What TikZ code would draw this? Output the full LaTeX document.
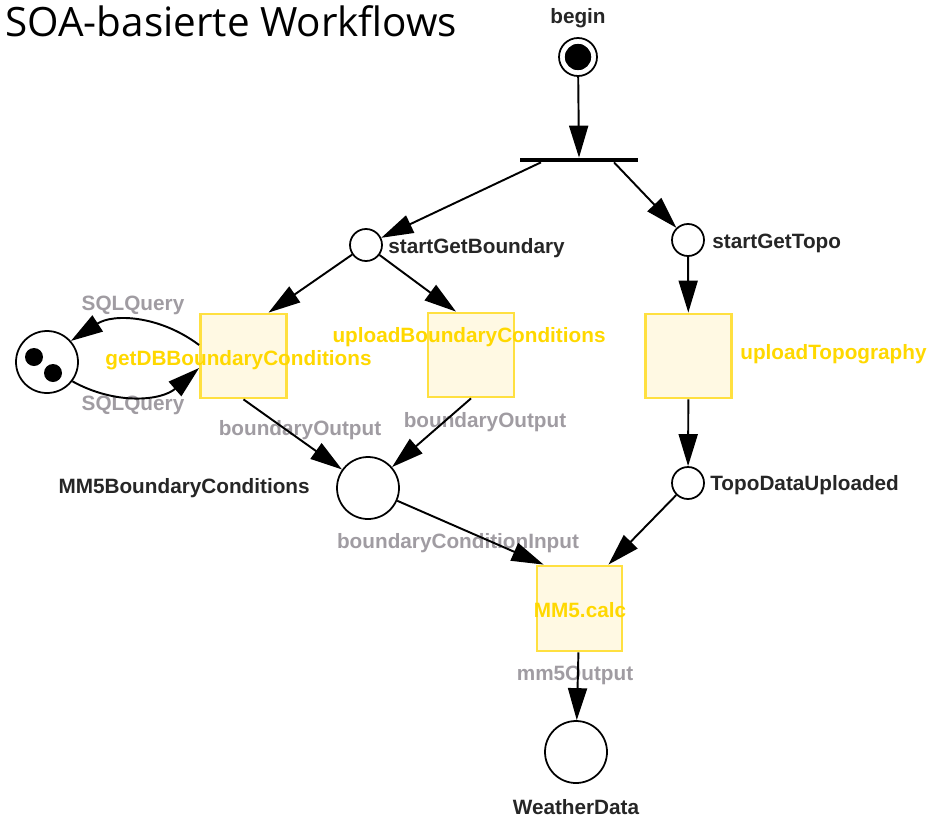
\documentclass[tikz,border=0pt]{standalone}
\usepackage{fontspec}
\setmainfont{Liberation Sans}
\newfontfamily\titlefont{Open Sans}
\usetikzlibrary{positioning,arrows.meta,calc}
\definecolor{transfill}{HTML}{FFF9E3}
\definecolor{transdraw}{HTML}{FFE040}
\definecolor{translbl}{HTML}{FFD800}
\definecolor{arclbl}{HTML}{A09CA2}

\begin{document}
\begin{tikzpicture}[
  place/.style={circle, draw, line width=1pt, minimum size=#1, inner sep=0pt},
  place/.default=0.64cm,
  token/.style={circle, fill=black, minimum size=0.36cm, inner sep=0pt},
  transbox/.style={draw=transdraw, fill=transfill, line width=1.6pt, minimum width=1.72cm, minimum height=1.68cm},
  tlabel/.style={text=translbl, font=\fontsize{11.8}{14}\selectfont\bfseries, inner sep=0pt},
  plabel/.style={text=black!85, font=\fontsize{11.8}{14}\selectfont\bfseries, inner sep=0pt},
  alabel/.style={text=arclbl, font=\fontsize{11.8}{14}\selectfont\bfseries, inner sep=0pt},
  arc/.style={-{Triangle[length=0.64cm,width=0.38cm]}, line width=1.1pt}
]
\useasboundingbox (0,0) rectangle (18.68,-16.42);
\node[anchor=west, inner sep=0pt, font=\titlefont\fontsize{23}{28}\selectfont] (title) at (0.1,-0.42) {SOA-basierte Workflows};

% places and tokens
\node[place=0.76cm] (begin) at (11.56,-1.14) {};
\node[circle, fill=black, draw=white, line width=0.8pt, minimum size=0.56cm, inner sep=0pt] (begindot) at (begin) {};
\node[fill=black, minimum width=2.36cm, minimum height=0.08cm, inner sep=0pt] (fork) at (11.58,-3.2) {};
\node[place] (sgb) at (7.32,-4.9) {};
\node[place] (sgt) at (13.76,-4.8) {};
\node[place=1.24cm] (pool) at (0.94,-7.24) {};
\node[token] (tok1) at (0.68,-7.14) {};
\node[token] (tok2) at (1.06,-7.46) {};
\node[place=1.24cm] (mm5bc) at (7.36,-9.76) {};
\node[place] (tdu) at (13.76,-9.66) {};
\node[place=1.24cm] (wd) at (11.52,-15.04) {};

% transitions
\foreach \name/\x/\y in {getdb/4.87/-7.12, upbc/9.42/-7.1, uptopo/13.77/-7.12}
  \node[transbox] (\name) at (\x,\y) {};
\node[transbox, minimum width=1.7cm, minimum height=1.7cm] (calc) at (11.59,-12.17) {};

% names
\node[plabel] (beginl) at (11.56,-0.36) {begin};
\node[plabel, anchor=west] (sgbl) at (7.76,-4.96) {startGetBoundary};
\node[plabel, anchor=west] (sgtl) at (14.24,-4.86) {startGetTopo};
\node[plabel, anchor=east] (mm5bcl) at (6.2,-9.76) {MM5BoundaryConditions};
\node[plabel, anchor=west] (tdul) at (14.2,-9.7) {TopoDataUploaded};
\node[plabel] (wdl) at (11.52,-16.14) {WeatherData};
\node[tlabel] (getdbl) at (4.77,-7.2) {getDBBoundaryConditions};
\node[tlabel] (upbcl) at (9.38,-6.74) {uploadBoundaryConditions};
\node[tlabel, anchor=west] (uptopol) at (14.8,-7.08) {uploadTopography};
\node[tlabel] (calcl) at (11.6,-12.2) {MM5.calc};

% arc inscriptions
\node[alabel] (q1) at (2.66,-6.1) {SQLQuery};
\node[alabel] (q2) at (2.66,-8.1) {SQLQuery};
\node[alabel] (bo1) at (6.0,-8.6) {boundaryOutput};
\node[alabel] (bo2) at (9.7,-8.44) {boundaryOutput};
\node[alabel] (bci) at (9.16,-10.86) {boundaryConditionInput};
\node[alabel] (mo) at (11.5,-13.5) {mm5Output};

% arcs
\draw[arc] (begin) -- (fork.north);
\draw[arc] ([xshift=-0.76cm]fork.south) -- (sgb);
\draw[arc] ([xshift=0.7cm]fork.south) -- (sgt);
\draw[arc] (sgb) -- ([xshift=0.5cm]getdb.north);
\draw[arc] (sgb) -- ([xshift=-0.3cm]upbc.north);
\draw[arc] (sgt) -- (uptopo);
\draw[arc] (uptopo) -- (tdu);
\draw[arc] (getdb.south) -- (mm5bc);
\draw[arc] (upbc.south) -- (mm5bc);
\draw[arc] (mm5bc) -- ([xshift=0.16cm]calc.north west);
\draw[arc] (tdu) -- ([xshift=-0.3cm]calc.north east);
\draw[arc] (calc) -- (wd);
\draw[arc] ([yshift=0.22cm]getdb.west) to[bend right=35] (pool);
\draw[arc] (pool) to[bend right=35] ([yshift=-0.24cm]getdb.west);
\end{tikzpicture}
\end{document}
